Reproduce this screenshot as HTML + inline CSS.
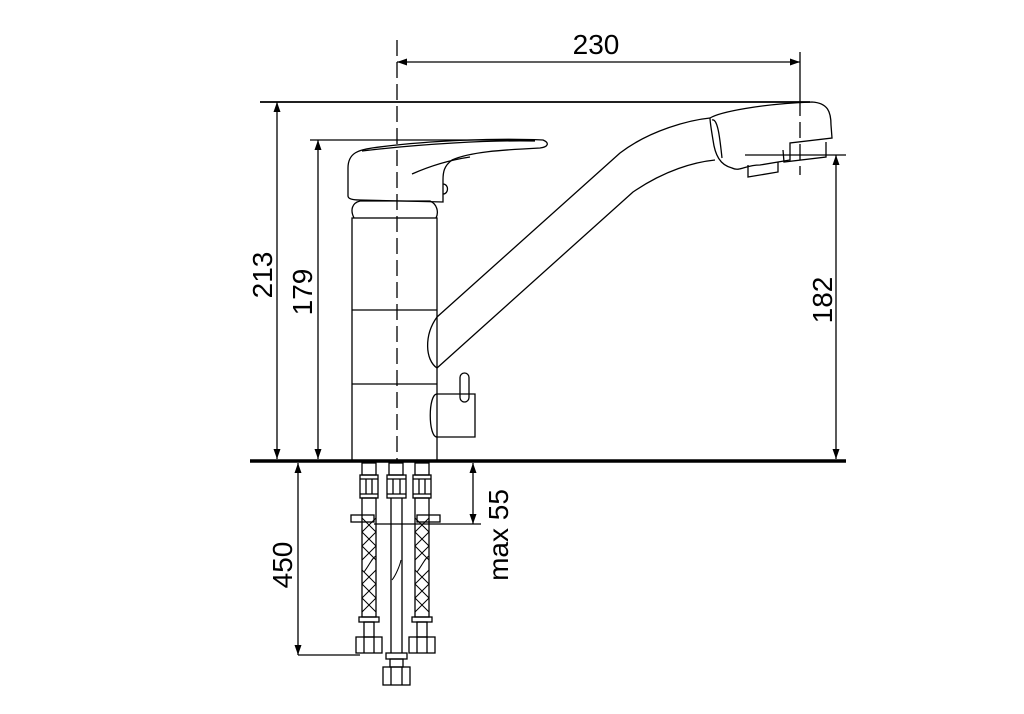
<!DOCTYPE html>
<html><head><style>
html,body{margin:0;padding:0;background:#fff;}
svg{display:block;}
text{font-family:"Liberation Sans",Arial,sans-serif;font-size:28px;fill:#000;}
</style></head><body>
<svg width="1024" height="714" viewBox="0 0 1024 714" xmlns="http://www.w3.org/2000/svg">
<defs>
<marker id="a" viewBox="0 0 10 10" refX="10" refY="5" markerWidth="10" markerHeight="10" orient="auto-start-reverse" markerUnits="userSpaceOnUse"><path d="M0,1.5 L10,5 L0,8.5 Z" fill="#000"/></marker>
</defs>
<g fill="none" stroke="#000" stroke-width="1.3">
<line x1="397" y1="40" x2="397" y2="460" stroke-dasharray="16,6"/>
<line x1="800" y1="100" x2="800" y2="175" stroke-dasharray="16,6"/>
<line x1="397" y1="62" x2="800" y2="62" marker-start="url(#a)" marker-end="url(#a)"/>
<line x1="800" y1="52" x2="800" y2="100"/>
<line x1="260" y1="102" x2="810" y2="102" stroke-width="1.8"/>
<line x1="277" y1="102" x2="277" y2="459" marker-start="url(#a)" marker-end="url(#a)"/>
<line x1="310" y1="140" x2="535" y2="140"/>
<line x1="318" y1="140" x2="318" y2="459" marker-start="url(#a)" marker-end="url(#a)"/>
<line x1="745" y1="155" x2="846" y2="155"/>
<line x1="836" y1="155" x2="836" y2="459" marker-start="url(#a)" marker-end="url(#a)"/>
<line x1="298" y1="463" x2="298" y2="655" marker-start="url(#a)" marker-end="url(#a)"/>
<line x1="298" y1="655" x2="360" y2="655"/>
<line x1="473" y1="463" x2="473" y2="524" marker-start="url(#a)" marker-end="url(#a)"/>
<line x1="374" y1="524" x2="481" y2="524"/>
<rect x="352" y="218" width="85" height="243"/>
<line x1="352" y1="310" x2="437" y2="310"/>
<line x1="352" y1="384" x2="437" y2="384"/>
<path d="M354,218 C350,210 352,203 360,201 L430,201 C437,204 439,212 436,218"/>
<path d="M348,196 L348,168 C348,152 360,150 372,148 C430,140 500,138 543,140 C550,143 548,147 540,148 C500,150 470,152 452,160 C444,166 443,172 443,180 L443,202 L360,200 C350,200 348,198 348,196 Z"/>
<path d="M362,151 C420,144 490,140 535,141"/>
<path d="M412,174 C430,166 450,160 470,157"/>
<path d="M443,184 C449,184 449,194 443,194"/>
<path d="M437,317 L620,153 C650,130 690,120 710,118"/>
<path d="M437,368 C425,360 424,335 437,317"/>
<path d="M437,368 L633,192 C665,170 695,162 715,160"/>
<path d="M710,118 C720,112 760,104 812,102 C828,103 831,112 831,125 L832,138 L790,143 L790,160 L760,165 C745,165 740,172 732,168 C720,165 715,155 713,140 C711,128 710,122 710,118 Z"/>
<path d="M712,120 C718,118 720,140 722,158"/>
<path d="M748,165 L748,177 L778,172 L778,162"/>
<path d="M783,150 L784,162 L826,157 L826,142"/>
<rect x="460" y="373" width="9" height="29" rx="4.5"/>
<path d="M437,394 L475,394 L475,437 L437,437 C428,437 428,394 437,394 Z"/>
<g id="h">
<rect x="362" y="463" width="14" height="12"/>
<rect x="360" y="475" width="18" height="23"/>
<line x1="360" y1="479" x2="378" y2="479"/><line x1="360" y1="494" x2="378" y2="494"/>
<line x1="366" y1="479" x2="366" y2="494"/><line x1="372" y1="479" x2="372" y2="494"/>
<rect x="362" y="498" width="14" height="119"/>
<path d="M362,518 L376,532 M376,518 L362,532 M362,532 L376,546 M376,532 L362,546 M362,546 L376,560 M376,546 L362,560 M362,570 L376,584 M376,570 L362,584 M362,584 L376,598 M376,584 L362,598 M362,598 L376,612 M376,598 L362,612 M364,572 C370,564 372,558 376,556" stroke-width="1"/>
<rect x="359" y="617" width="20" height="5"/>
<rect x="364" y="622" width="10" height="15"/>
<rect x="356" y="637" width="26" height="16"/>
<line x1="364" y1="637" x2="364" y2="653"/><line x1="374" y1="637" x2="374" y2="653"/>
</g>
<use href="#h" transform="translate(53,0)"/>
<rect x="351" y="515" width="23" height="7"/>
<rect x="417" y="515" width="23" height="7"/>
<rect x="389" y="463" width="14" height="12"/>
<rect x="387" y="475" width="19" height="23"/>
<line x1="387" y1="479" x2="406" y2="479"/><line x1="387" y1="494" x2="406" y2="494"/>
<line x1="393" y1="479" x2="393" y2="494"/><line x1="400" y1="479" x2="400" y2="494"/>
<line x1="391" y1="498" x2="391" y2="653"/><line x1="402" y1="498" x2="402" y2="653"/>
<path d="M392,580 C396,575 400,565 401,560" stroke-width="1"/>
<rect x="386" y="653" width="21" height="6"/>
<rect x="390" y="659" width="13" height="8"/>
<rect x="383" y="667" width="27" height="18"/>
<line x1="391" y1="667" x2="391" y2="685"/><line x1="402" y1="667" x2="402" y2="685"/>
<line x1="250" y1="461" x2="846" y2="461" stroke-width="3.5"/>
</g>
<text x="596" y="54" text-anchor="middle">230</text>
<text transform="translate(272,275) rotate(-90)" text-anchor="middle">213</text>
<text transform="translate(312,292) rotate(-90)" text-anchor="middle">179</text>
<text transform="translate(832,300) rotate(-90)" text-anchor="middle">182</text>
<text transform="translate(292,565) rotate(-90)" text-anchor="middle">450</text>
<text transform="translate(508,535) rotate(-90)" text-anchor="middle">max 55</text>
</svg>
</body></html>
